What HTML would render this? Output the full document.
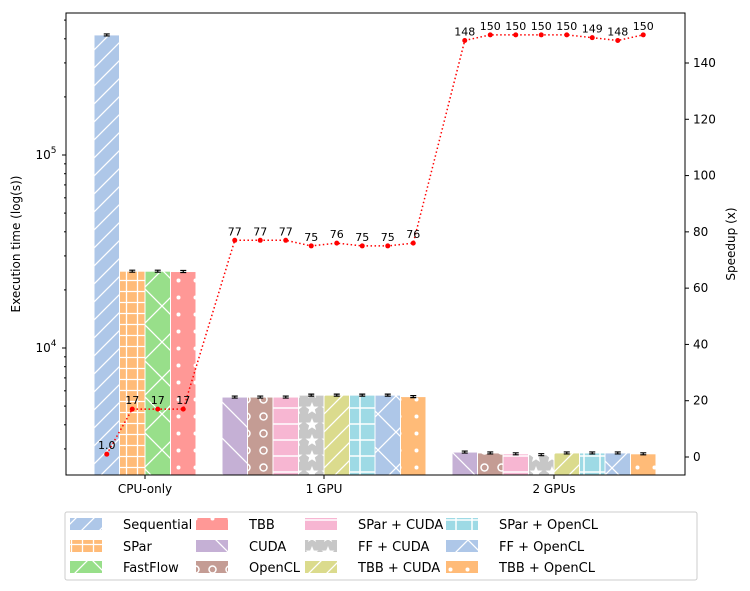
<!DOCTYPE html>
<html><head><meta charset="utf-8"><style>
body{margin:0;background:#fff;font-family:"Liberation Sans","DejaVu Sans",sans-serif}
svg{display:block}
</style></head><body>
<svg id="c" width="750" height="591" xmlns="http://www.w3.org/2000/svg" font-family="DejaVu Sans, Liberation Sans, sans-serif">
<defs>
<pattern id="h-fs" width="18" height="18" patternUnits="userSpaceOnUse"><path d="M0 18L18 0M-4 4L4 -4M14 22L22 14" stroke="#fff" stroke-width="1.3"/></pattern>
<pattern id="h-bs" width="36" height="36" patternUnits="userSpaceOnUse"><path d="M0 0L36 36M-4 32L4 40M32 -4L40 4" stroke="#fff" stroke-width="1.3"/></pattern>
<pattern id="h-plus" width="11" height="11" patternUnits="userSpaceOnUse"><path d="M5.5 0V11M0 5.5H11" stroke="#fff" stroke-width="1.3"/></pattern>
<pattern id="h-grid" width="16" height="16" patternUnits="userSpaceOnUse"><path d="M8 0V16M0 8H16" stroke="#fff" stroke-width="1.5"/></pattern>
<pattern id="h-x" width="36" height="36" patternUnits="userSpaceOnUse"><path d="M0 0L36 36M36 0L0 36" stroke="#fff" stroke-width="1.3"/></pattern>
<pattern id="h-dot" width="17" height="17" patternUnits="userSpaceOnUse"><circle cx="8.5" cy="8.5" r="2" fill="#fff"/></pattern>
<pattern id="h-o" width="17" height="17" patternUnits="userSpaceOnUse"><circle cx="8.5" cy="8.5" r="3.5" fill="none" stroke="#fff" stroke-width="1.5"/></pattern>
<pattern id="h-dash" width="16" height="16" patternUnits="userSpaceOnUse"><path d="M0 8H16" stroke="#fff" stroke-width="1.5"/></pattern>
<pattern id="h-star" width="16" height="16" patternUnits="userSpaceOnUse"><path d="M8 2L9.8 6.5L14.5 6.6L10.8 9.5L12.1 14L8 11.4L3.9 14L5.2 9.5L1.5 6.6L6.2 6.5Z" fill="#fff"/></pattern>
</defs>
<g id="plot"></g>
</svg>
<script>
const groups=["CPU-only","1 GPU","2 GPUs"];
const seriesNames=["Sequential","SPar","FastFlow","TBB","CUDA","OpenCL","SPar + CUDA","FF + CUDA","TBB + CUDA","SPar + OpenCL","FF + OpenCL","TBB + OpenCL"];
const cpuTimes=[419000,25000,25000,24900];
const gpu1Times=[5570,5570,5570,5700,5700,5700,5700,5600];
const gpu2Times=[2890,2860,2830,2800,2860,2860,2860,2830];
const cpuSpeed=[1.0,17,17,17];
const gpu1Speed=[77,77,77,75,76,75,75,76];
const gpu2Speed=[148,150,150,150,150,149,148,150];
const speedLabels=["1.0","17","17","17","77","77","77","75","76","75","75","76","148","150","150","150","150","149","148","150"];
const yTicksRight=[0,20,40,60,80,100,120,140];

const colors=["#aec7e8","#ffbb78","#98df8a","#ff9896","#c5b0d5","#c49c94","#f7b6d2","#c7c7c7","#dbdb8d","#9edae5","#aec7e8","#ffbb78"];
const hatch=["h-fs","h-plus","h-x","h-dot","h-bs","h-o","h-dash","h-star","h-fs","h-grid","h-x","h-dot"];
const L=66,R=685,T=13,B=475;
const ylog=v=>348-(Math.log10(v)-4)*193;
const yr=v=>457-v*(394/140);
const svg=document.getElementById('c');const g=document.getElementById('plot');
const NS="http://www.w3.org/2000/svg";
function mk(t,a,p){const e=document.createElementNS(NS,t);for(const k in a)e.setAttribute(k,a[k]);(p||g).appendChild(e);return e;}
const bw=25.5;
const groupStart=[94,222,452];
const groupData=[cpuTimes,gpu1Times,gpu2Times];
const groupSeries=[[0,1,2,3],[4,5,6,7,8,9,10,11],[4,5,6,7,8,9,10,11]];
const speeds=[cpuSpeed,gpu1Speed,gpu2Speed];
const pts=[];
groupData.forEach((arr,gi)=>{arr.forEach((v,i)=>{
 const s=groupSeries[gi][i];const x=groupStart[gi]+i*bw;const y=ylog(v);
 let r=mk('rect',{x:x,y:y,width:bw,height:B-y,fill:colors[s]});
 
 
 mk('rect',{x:x,y:y,width:bw,height:B-y,fill:'url(#'+hatch[s]+')'});
 mk('rect',{x:x,y:y,width:bw,height:B-y,fill:'none',stroke:'#fff','stroke-width':1});
 const e=v*0.012;
 mk('path',{d:`M${x+bw/2-3} ${ylog(v+e)}H${x+bw/2+3}M${x+bw/2} ${ylog(v+e)}V${ylog(v-e)}M${x+bw/2-3} ${ylog(v-e)}H${x+bw/2+3}`,stroke:'#000','stroke-width':1.2,fill:'none'});
 pts.push([x+bw/2,yr(speeds[gi][i])]);
});});
const ln=mk('polyline',{points:pts.map(p=>p.join(',')).join(' '),fill:'none',stroke:'red','stroke-width':1.5,'stroke-dasharray':'1.5,2.5'});

pts.forEach((p,i)=>{const c=mk('circle',{cx:p[0],cy:p[1],r:2.5,fill:'red'});
 
 const t=mk('text',{x:p[0],y:p[1]-5,'font-size':11,'text-anchor':'middle'});t.textContent=speedLabels[i];
 });
mk('rect',{x:L,y:T,width:R-L,height:B-T,fill:'none',stroke:'#000','stroke-width':1});
// left ticks
[[1e4,"10"],[1e5,"10"]].forEach(([v,b],i)=>{const y=ylog(v);mk('path',{d:`M${L} ${y}h-4`,stroke:'#000'});
 const t=mk('text',{x:L-20,y:y+4,'font-size':12,'text-anchor':'middle'});t.textContent=b;
 const s=mk('tspan',{dy:-6,'font-size':9});s.textContent=i?'5':'4';t.appendChild(s);});
[3000,4000,5000,6000,7000,8000,9000,20000,30000,40000,50000,60000,70000,80000,90000,200000,300000,400000,500000].forEach(v=>{const y=ylog(v);if(y>T&&y<B)mk('path',{d:`M${L} ${y}h-2`,stroke:'#000'});});
yTicksRight.forEach(v=>{const y=yr(v);mk('path',{d:`M${R} ${y}h4`,stroke:'#000'});
 const t=mk('text',{x:R+8,y:y+4,'font-size':12});t.textContent=v;});
const gx=[145,324,554];
groups.forEach((n,i)=>{mk('path',{d:`M${gx[i]} ${B}v4`,stroke:'#000'});const t=mk('text',{x:gx[i],y:B+18,'font-size':12,'text-anchor':'middle'});t.textContent=n;
 });
let t=mk('text',{x:20,y:244,'font-size':12,'text-anchor':'middle',transform:'rotate(-90 20 244)'});t.textContent='Execution time (log(s))';

t=mk('text',{x:735,y:244,'font-size':12,'text-anchor':'middle',transform:'rotate(-90 735 244)'});t.textContent='Speedup (x)';

// legend
const lg=mk('g',{});
mk('rect',{x:65,y:512,width:632,height:68,fill:'#fff',stroke:'#ccc',rx:2},lg);
const cx=[70,196,305,446],ry=[518,540,561];
seriesNames.forEach((n,i)=>{const c=Math.floor(i/3),r=i%3;const e=mk('g',{},lg);
 
 mk('rect',{x:cx[c],y:ry[r],width:32,height:12,fill:colors[i]},e);
 mk('rect',{x:cx[c],y:ry[r],width:32,height:12,fill:'url(#'+hatch[i]+')'},e);
 const tt=mk('text',{x:cx[c]+53,y:ry[r]+11,'font-size':13},e);tt.textContent=n;});
</script>
</body></html>
